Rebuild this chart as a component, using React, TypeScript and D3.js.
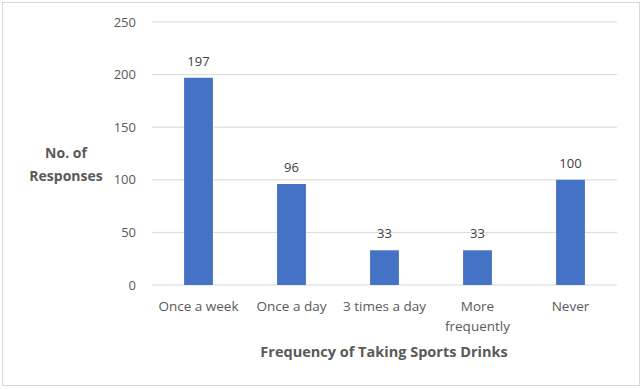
import React from 'react'
import * as d3 from 'd3'

const categories = ['Once a week', 'Once a day', '3 times a day', 'More frequently', 'Never']
const responses = [197, 96, 33, 33, 100]
const yTicks = [0, 50, 100, 150, 200, 250]

const W = 643
const H = 389
const margin = { left: 152, right: 26, top: 22, bottom: 104 }
const textColor = '#595959'
const font = "'Open Sans', 'Noto Sans', sans-serif"

function wrapLabel(label: string): string[] {
  if (label === 'More frequently') return ['More', 'frequently']
  return [label]
}

export default function App() {
  const x = d3.scaleBand()
    .domain(categories)
    .range([margin.left, W - margin.right])
    .paddingInner(0.69)
    .paddingOuter(0.345)

  const y = d3.scaleLinear()
    .domain([0, 250])
    .range([H - margin.bottom, margin.top])

  return (
    <svg width={W} height={H} style={{ position: 'absolute', left: 0, top: 0 }} fontFamily={font}>
      <rect x={2.5} y={2.5} width={W - 6} height={H - 6} fill="#fff" stroke="#d9d9d9" />
      <g>
        {yTicks.map(t => (
          <g key={t}>
            <line x1={margin.left} x2={W - margin.right} y1={y(t)} y2={y(t)} stroke="#d9d9d9" strokeWidth={1} />
            <text x={136} y={y(t)} dy="0.35em" textAnchor="end" fontSize={13} fill={textColor}>{t}</text>
          </g>
        ))}
      </g>
      <g>
        {categories.map((c, i) => (
          <g key={c}>
            <rect x={x(c)} y={y(responses[i])} width={x.bandwidth()} height={y(0) - y(responses[i])} fill="#4472c4" />
            <text x={x(c)! + x.bandwidth() / 2} y={y(responses[i]) - 12} textAnchor="middle" fontSize={13} fill="#404040">{responses[i]}</text>
            {wrapLabel(c).map((line, j) => (
              <text key={j} x={x(c)! + x.bandwidth() / 2} y={311 + j * 20} textAnchor="middle" fontSize={13.5} fill={textColor}>{line}</text>
            ))}
          </g>
        ))}
      </g>
      <text x={384} y={357} textAnchor="middle" fontSize={14.5} fontWeight="bold" fill={textColor}>Frequency of Taking Sports Drinks</text>
      <text x={66} y={158} textAnchor="middle" fontSize={14} fontWeight="bold" fill={textColor}>No. of</text>
      <text x={66} y={181} textAnchor="middle" fontSize={14} fontWeight="bold" fill={textColor}>Responses</text>
    </svg>
  )
}
